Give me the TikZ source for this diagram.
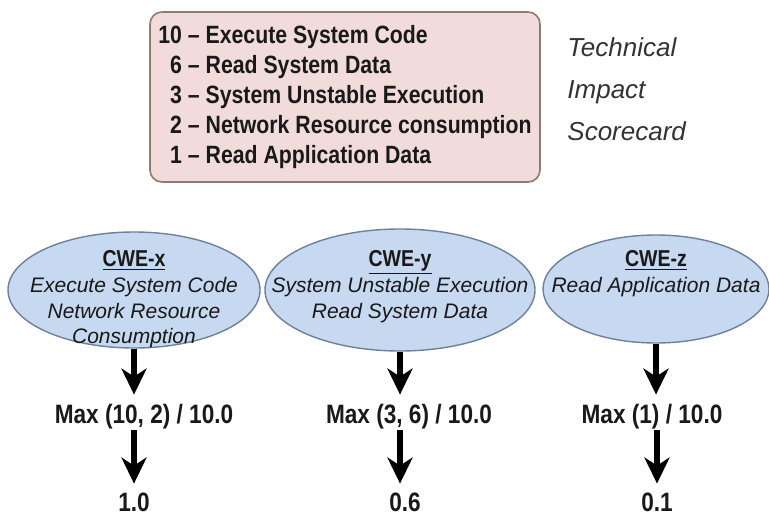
\documentclass[tikz,border=0pt]{standalone}
\usepackage{fontspec}
\setmainfont{Liberation Sans}
\newfontfamily\narrowsf{Liberation Sans}[FakeStretch=0.85]
\usetikzlibrary{positioning,arrows.meta,shapes.geometric}
\definecolor{cardpink}{HTML}{F2DCDB}
\definecolor{cardedge}{HTML}{8C7D6E}
\definecolor{cweblue}{HTML}{C6D9F1}
\definecolor{cweedge}{HTML}{6E819C}
\definecolor{inkgray}{HTML}{333333}
\tikzset{
    every node/.style={text=black!90},
    scorecard/.style={rounded corners=6pt,draw=cardedge,line width=0.8pt,fill=cardpink,minimum width=195pt,minimum height=85pt,inner sep=0pt,font=\narrowsf\bfseries\fontsize{12.5}{15}\selectfont},
    cardname/.style={anchor=north west,inner sep=0pt,align=left,text=inkgray,font=\itshape\fontsize{13}{21}\selectfont},
    cwe/.style={ellipse,draw=cweedge,line width=0.7pt,fill=cweblue,inner sep=0pt},
    cwetitle/.style={anchor=base,inner sep=0pt,font=\narrowsf\bfseries\fontsize{11.5}{14}\selectfont},
    cwedesc/.style={anchor=north,inner sep=0pt,align=center,font=\itshape\fontsize{10.5}{12.8}\selectfont},
    score/.style={anchor=base,inner sep=0pt,text height=9pt,text depth=2.5pt,font=\narrowsf\bfseries\fontsize{13.3}{16}\selectfont},
    bigarrow/.style={line width=2.8pt,-{Stealth[length=13pt,width=12.5pt,inset=4pt]}}
}
\begin{document}
\begin{tikzpicture}[x=0.5pt,y=-0.5pt]
\useasboundingbox (0,0) rectangle (769,514);
% scorecard
\node[scorecard] (card) at (345,97) {%
    \begin{tabular}{@{}r@{ \textendash{} }l@{}}
    10 & Execute System Code\\
    6 & Read System Data\\
    3 & System Unstable Execution\\
    2 & Network Resource consumption\\
    1 & Read Application Data
    \end{tabular}};
\node[cardname] (cardlabel) at (567,37) {Technical\\Impact\\Scorecard};
% weaknesses
\node[cwe,minimum width=126pt,minimum height=58pt] (cwex) at (134,290) {};
\node[cwe,minimum width=135pt,minimum height=61pt] (cwey) at (400,290) {};
\node[cwe,minimum width=113pt,minimum height=54pt] (cwez) at (656,289) {};
\node[cwetitle] (titlex) at (134,266) {\underline{CWE-x}};
\node[cwetitle] (titley) at (400,266) {\underline{CWE-y}};
\node[cwetitle] (titlez) at (656,266) {\underline{CWE-z}};
\node[cwedesc] (descx) at (134,277) {Execute System Code\\Network Resource\\Consumption};
\node[cwedesc] (descy) at (400,277) {System Unstable Execution\\Read System Data};
\node[cwedesc] (descz) at (656,277) {Read Application Data};
% scores
\node[score] (maxx) at (144,423) {Max (10, 2) / 10.0};
\node[score] (maxy) at (409,423) {Max (3, 6) / 10.0};
\node[score] (maxz) at (652,423) {Max (1) / 10.0};
\node[score] (valx) at (134,511) {1.0};
\node[score] (valy) at (405,511) {0.6};
\node[score] (valz) at (657,511) {0.1};
% arrows
\draw[bigarrow,shorten >=5pt] (cwex.south) -- (cwex.south |- maxx.north);
\draw[bigarrow,shorten >=5pt] (cwey.south) -- (cwey.south |- maxy.north);
\draw[bigarrow,shorten >=5pt] (cwez.south) -- (cwez.south |- maxz.north);
\draw[bigarrow,shorten <=1pt,shorten >=4.5pt] (maxx.south -| valx.north) -- (valx.north);
\draw[bigarrow,shorten <=1pt,shorten >=4.5pt] (maxy.south -| cwey.south) -- (cwey.south |- valy.north);
\draw[bigarrow,shorten <=1pt,shorten >=4.5pt] (maxz.south -| valz.north) -- (valz.north);
\end{tikzpicture}
\end{document}
